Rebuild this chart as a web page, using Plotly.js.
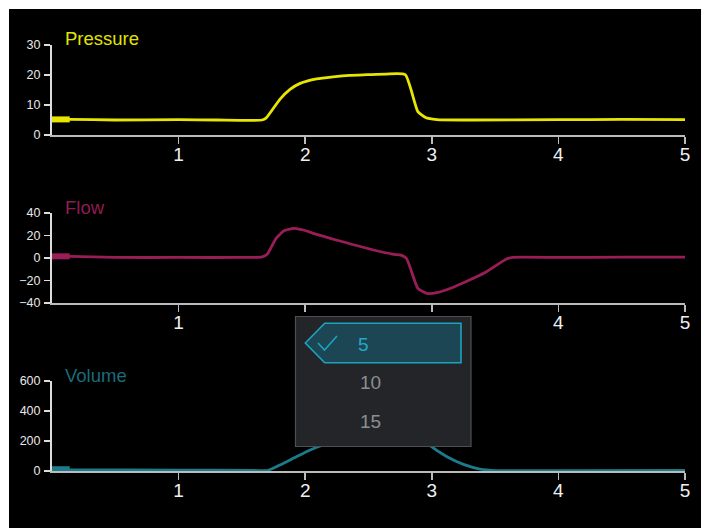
<!DOCTYPE html>
<html>
<head>
<meta charset="utf-8">
<script src="https://cdn.plot.ly/plotly-3.0.1.min.js"></script>
<style>html,body{margin:0;padding:0;background:#fff;}#chart{width:701px;height:528px;}</style>
</head>
<body>
<div id="chart"></div>
<script>
// ---- data ----
var startT = [0, 0.14];
var pressureStart = [5.2, 5.2];
var flowStart = [1.5, 1.5];
var volumeStart = [12, 12];

var pressureT = [0, 0.14, 0.5, 1.0, 1.3, 1.66, 1.69, 1.80, 1.88, 1.96, 2.09, 2.22, 2.35, 2.49, 2.64, 2.79, 2.89, 2.95, 3.04, 3.3, 4.0, 4.5, 5.0];
var pressure  = [5.2, 5.2, 5.0, 5.1, 5.0, 5.0, 5.6, 11.9, 15.2, 17.2, 18.7, 19.4, 19.9, 20.1, 20.3, 20.1, 7.8, 5.8, 5.1, 5.0, 5.1, 5.2, 5.1];

var flowT = [0, 0.14, 0.5, 1.0, 1.5, 1.66, 1.70, 1.77, 1.83, 1.91, 1.985, 2.09, 2.275, 2.54, 2.70, 2.75, 2.80, 2.89, 2.96, 3.04, 3.17, 3.41, 3.59, 3.64, 4.0, 4.5, 5.0];
var flow  = [1.5, 1.5, 0.5, 0.5, 0.5, 1.0, 3.3, 17.5, 24, 26.4, 24.9, 21, 15.1, 7.1, 3.3, 2.7, -0.3, -27, -31.4, -30.8, -26, -13.6, -0.9, 0.6, 0.5, 0.7, 0.8];

var volumeT = [0, 0.14, 1.0, 1.6, 1.70, 1.80, 1.93, 2.04, 2.12, 2.3, 2.5, 2.7, 2.8, 2.88, 2.95, 2.99, 3.12, 3.25, 3.38, 3.51, 4.0, 5.0];
var volume  = [8, 8, 6, 4, 3, 40, 95, 140, 167, 205, 235, 252, 250, 232, 200, 167, 95, 44, 13, 3, 3, 4];

var xTicks = [1, 2, 3, 4, 5];
var pressureTicks = [0, 10, 20, 30];
var flowTicks = [-40, -20, 0, 20, 40];
var volumeTicks = [0, 200, 400, 600];
var titles = ['Pressure', 'Flow', 'Volume'];
var menuItems = ['5', '10', '15'];

// ---- styles ----
var cP = '#e6e600', cF = '#9a1d58', cV = '#1b7b8b';
var L = 52, R = 685, T = 45, B = 471;
function px(x){ return (x - L) / (R - L); }
function py(y){ return (B - y) / (B - T); }
var font = 'Liberation Sans, Arial, sans-serif';

function xa(anchor){
  return {range:[0,5], anchor:anchor, tickvals:xTicks, ticks:'outside', ticklen:7, tickwidth:1.5,
    tickcolor:'#bbb', showline:true, linecolor:'#bbb', linewidth:2, showgrid:false, zeroline:false,
    tickfont:{size:19, color:'#f0f0f0', family:font}, ticklabelstandoff:-6, fixedrange:true};
}
function ya(anchor, domain, range, ticks){
  return {domain:domain, range:range, anchor:anchor, tickvals:ticks, ticks:'outside', ticklen:6, tickwidth:1.5,
    tickcolor:'#ddd', showline:true, linecolor:'#ddd', linewidth:2, showgrid:false, zeroline:false,
    tickfont:{size:12.5, color:'#e8e8e8', family:font}, ticklabelstandoff:1};
}

var traces = [
  {x:pressureT, y:pressure, xaxis:'x', yaxis:'y', mode:'lines', line:{color:cP, width:2.8, shape:'spline', smoothing:0.5}},
  {x:startT, y:pressureStart, xaxis:'x', yaxis:'y', mode:'lines', line:{color:cP, width:6}},
  {x:flowT, y:flow, xaxis:'x2', yaxis:'y2', mode:'lines', line:{color:cF, width:2.8, shape:'spline', smoothing:0.5}},
  {x:startT, y:flowStart, xaxis:'x2', yaxis:'y2', mode:'lines', line:{color:cF, width:6}},
  {x:volumeT, y:volume, xaxis:'x3', yaxis:'y3', mode:'lines', line:{color:cV, width:2.8, shape:'spline', smoothing:0.6}},
  {x:startT, y:volumeStart, xaxis:'x3', yaxis:'y3', mode:'lines', line:{color:cV, width:6}}
];

var hlPath = 'M ' + px(305.3) + ' ' + py(343) + ' L ' + px(324.7) + ' ' + py(323.3) + ' L ' + px(461) + ' ' + py(323.3) +
  ' L ' + px(461) + ' ' + py(362.7) + ' L ' + px(324.7) + ' ' + py(362.7) + ' Z';
var checkPath = 'M ' + px(318) + ' ' + py(343) + ' L ' + px(324.5) + ' ' + py(350) + ' L ' + px(337) + ' ' + py(336);

var layout = {
  width:701, height:528,
  margin:{l:L, r:701-R, t:T, b:528-B, pad:0},
  paper_bgcolor:'#000', plot_bgcolor:'#000',
  showlegend:false,
  xaxis: xa('y'), yaxis: ya('x', [py(135), 1], [0,30], pressureTicks),
  xaxis2: xa('y2'), yaxis2: ya('x2', [py(303), py(213)], [-40,40], flowTicks),
  xaxis3: xa('y3'), yaxis3: ya('x3', [0, py(381)], [0,600], volumeTicks),
  shapes:[
    {type:'rect', xref:'paper', yref:'paper', x0:px(0), x1:px(701), y0:py(0), y1:py(9), fillcolor:'#fff', line:{width:0}, layer:'above'},
    {type:'rect', xref:'paper', yref:'paper', x0:px(0), x1:px(9), y0:py(0), y1:py(528), fillcolor:'#fff', line:{width:0}, layer:'above'},
    {type:'rect', xref:'paper', yref:'paper', x0:px(295.5), x1:px(471), y0:py(316.5), y1:py(446.5), fillcolor:'#232528', line:{color:'#4d4f53', width:1.2}, layer:'above'},
    {type:'path', xref:'paper', yref:'paper', path:hlPath, fillcolor:'#1d4654', line:{color:'#1ba3c0', width:1.6}, layer:'above'},
    {type:'path', xref:'paper', yref:'paper', path:checkPath, line:{color:'#1ba3c0', width:1.6}, layer:'above'}
  ],
  annotations:[
    {text:titles[0], xref:'paper', yref:'paper', x:px(63), y:py(38), xanchor:'left', yanchor:'middle', showarrow:false, font:{size:18.5, color:'#e3e300', family:font}},
    {text:titles[1], xref:'paper', yref:'paper', x:px(63), y:py(207), xanchor:'left', yanchor:'middle', showarrow:false, font:{size:18.5, color:'#8e1d50', family:font}},
    {text:titles[2], xref:'paper', yref:'paper', x:px(63), y:py(375), xanchor:'left', yanchor:'middle', showarrow:false, font:{size:18.5, color:'#1a6c7b', family:font}},
    {text:menuItems[0], xref:'paper', yref:'paper', x:px(363), y:py(344), xanchor:'center', yanchor:'middle', showarrow:false, font:{size:19, color:'#22a9c6', family:font}},
    {text:menuItems[1], xref:'paper', yref:'paper', x:px(370), y:py(382.5), xanchor:'center', yanchor:'middle', showarrow:false, font:{size:19, color:'#8c8e92', family:font}},
    {text:menuItems[2], xref:'paper', yref:'paper', x:px(370), y:py(421.5), xanchor:'center', yanchor:'middle', showarrow:false, font:{size:19, color:'#8c8e92', family:font}}
  ]
};

Plotly.newPlot('chart', traces, layout, {displayModeBar:false, staticPlot:true});
</script>
</body>
</html>
